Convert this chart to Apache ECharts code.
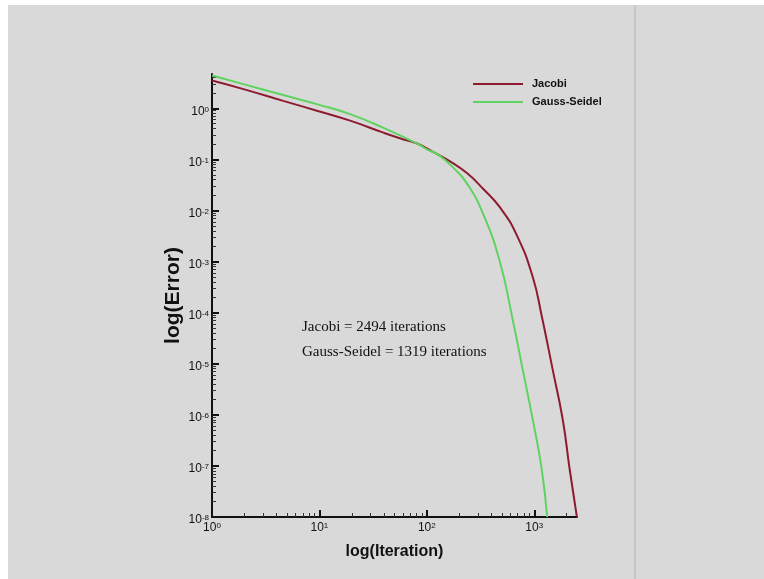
<!DOCTYPE html>
<html>
<head>
<meta charset="utf-8">
<script src="https://cdn.jsdelivr.net/npm/echarts@6/dist/echarts.min.js"></script>
<style>html,body{margin:0;padding:0;background:#d9d9d9;}#c{width:764px;height:579px;}</style>
</head>
<body>
<div id="c"></div>
<script>
// ---- data ----
const jacobiIter = [1, 2, 4.6, 10, 19, 40, 56, 81, 100, 114, 160, 236, 332, 478, 687, 968, 1175, 1486, 1841, 2138, 2494];
const jacobiErr  = [3.5, 2.35, 1.4, 0.87, 0.58, 0.33, 0.26, 0.205, 0.165, 0.14, 0.095, 0.054, 0.027, 0.0116, 3.3e-3, 5.0e-4, 8.5e-5, 7.6e-6, 8.1e-7, 8.5e-8, 1e-8];
const gaussIter  = [1, 2, 4.6, 10, 19, 40, 81, 100, 130, 180, 236, 332, 478, 631, 782, 968, 1175, 1319];
const gaussErr   = [4.4, 2.94, 1.82, 1.17, 0.78, 0.41, 0.205, 0.158, 0.12, 0.066, 0.034, 0.0089, 1.0e-3, 7.2e-5, 7.6e-6, 8.1e-7, 8.5e-8, 1e-8];
const seriesNames = ['Jacobi', 'Gauss-Seidel'];
const xMajorTicks = [1, 10, 100, 1000];
const yMajorTicks = [1e-8, 1e-7, 1e-6, 1e-5, 1e-4, 1e-3, 1e-2, 1e-1, 1];
const xMin = 1, xMax = 2500, yMin = 1e-8, yMax = 4.7;
const noteLines = ['Jacobi = 2494 iterations', 'Gauss-Seidel = 1319 iterations'];
const xTitle = 'log(Iteration)', yTitle = 'log(Error)';

// minor ticks at 2..9 within each decade
function minorTicks(lo, hi) {
  const out = [];
  for (let e = Math.floor(Math.log10(lo)); e <= Math.ceil(Math.log10(hi)); e++) {
    for (let m = 2; m <= 9; m++) {
      const v = m * Math.pow(10, e);
      if (v > lo && v < hi) out.push(v);
    }
  }
  return out;
}
const sans = "'Liberation Sans',Arial,Helvetica,sans-serif";
const serif = "'Liberation Serif','Times New Roman',serif";
const pow10 = v => '{b|10}{s|' + Math.round(Math.log10(v)) + '}';
const richLbl = {
  b: { fontFamily: sans, fontSize: 12, color: '#111', verticalAlign: 'bottom' },
  s: { fontFamily: sans, fontSize: 8, color: '#111', verticalAlign: 'top' }
};

const chart = echarts.init(document.getElementById('c'), null, { renderer: 'canvas' });

chart.setOption({
  backgroundColor: '#d9d9d9',
  animation: false,
  grid: { left: 212, right: 187, top: 74, bottom: 62, containLabel: false },
  legend: {
    data: seriesNames,
    orient: 'vertical',
    left: 473,
    top: 76,
    padding: 0,
    icon: 'rect',
    itemWidth: 50,
    itemHeight: 2,
    itemGap: 2,
    textStyle: { fontFamily: sans, fontWeight: 'bold', fontSize: 11, color: '#111', lineHeight: 16, padding: [0, 0, 0, 4] }
  },
  xAxis: [{
    type: 'log', logBase: 10, min: xMin, max: xMax,
    name: xTitle, nameLocation: 'middle', nameGap: 27,
    nameTextStyle: { fontFamily: sans, fontWeight: 'bold', fontSize: 16, color: '#111' },
    axisLine: { show: true, onZero: false, lineStyle: { color: '#111', width: 2 } },
    axisTick: { show: true, inside: true, length: 7, lineStyle: { color: '#111', width: 2 }, customValues: xMajorTicks },
    axisLabel: { show: true, margin: 5, customValues: xMajorTicks, formatter: pow10, rich: richLbl },
    splitLine: { show: false }
  }, {
    type: 'log', logBase: 10, min: xMin, max: xMax, position: 'bottom',
    axisLine: { show: false, onZero: false },
    axisTick: { show: true, inside: true, length: 4, lineStyle: { color: '#333', width: 1 }, customValues: minorTicks(xMin, xMax) },
    axisLabel: { show: false },
    splitLine: { show: false }
  }],
  yAxis: [{
    type: 'log', logBase: 10, min: yMin, max: yMax,
    name: yTitle, nameLocation: 'middle', nameGap: 28,
    nameTextStyle: { fontFamily: sans, fontWeight: 'bold', fontSize: 21, color: '#111' },
    axisLine: { show: true, onZero: false, lineStyle: { color: '#111', width: 2 } },
    axisTick: { show: true, inside: true, length: 7, lineStyle: { color: '#111', width: 2 }, customValues: yMajorTicks },
    axisLabel: { show: true, margin: 3, padding: [6, 0, 0, 0], customValues: yMajorTicks, formatter: pow10, rich: richLbl },
    splitLine: { show: false }
  }, {
    type: 'log', logBase: 10, min: yMin, max: yMax, position: 'left',
    axisLine: { show: false, onZero: false },
    axisTick: { show: true, inside: true, length: 4, lineStyle: { color: '#333', width: 1 }, customValues: minorTicks(yMin, yMax) },
    axisLabel: { show: false },
    splitLine: { show: false }
  }],
  series: [{
    name: seriesNames[0], type: 'line', xAxisIndex: 0, yAxisIndex: 0,
    data: jacobiIter.map((x, i) => [x, jacobiErr[i]]),
    showSymbol: false, symbol: 'none', smooth: 0.5,
    lineStyle: { color: '#8e1b30', width: 2 }, itemStyle: { color: '#8e1b30' }
  }, {
    name: seriesNames[1], type: 'line', xAxisIndex: 0, yAxisIndex: 0,
    data: gaussIter.map((x, i) => [x, gaussErr[i]]),
    showSymbol: false, symbol: 'none', smooth: 0.5,
    lineStyle: { color: '#5fd35f', width: 2 }, itemStyle: { color: '#5fd35f' }
  }],
  graphic: [
    { type: 'rect', shape: { x: 0, y: 0, width: 764, height: 5 }, style: { fill: '#ffffff' }, silent: true },
    { type: 'rect', shape: { x: 0, y: 0, width: 8, height: 579 }, style: { fill: '#ffffff' }, silent: true },
    { type: 'rect', shape: { x: 634, y: 5, width: 2, height: 574 }, style: { fill: '#c6c6c6' }, silent: true },
    { type: 'text', x: 302, y: 327, style: { text: noteLines[0], fontFamily: serif, fontSize: 15, fill: '#111', align: 'left', verticalAlign: 'middle' }, silent: true },
    { type: 'text', x: 302, y: 352, style: { text: noteLines[1], fontFamily: serif, fontSize: 15, fill: '#111', align: 'left', verticalAlign: 'middle' }, silent: true }
  ]
});
</script>
</body>
</html>
